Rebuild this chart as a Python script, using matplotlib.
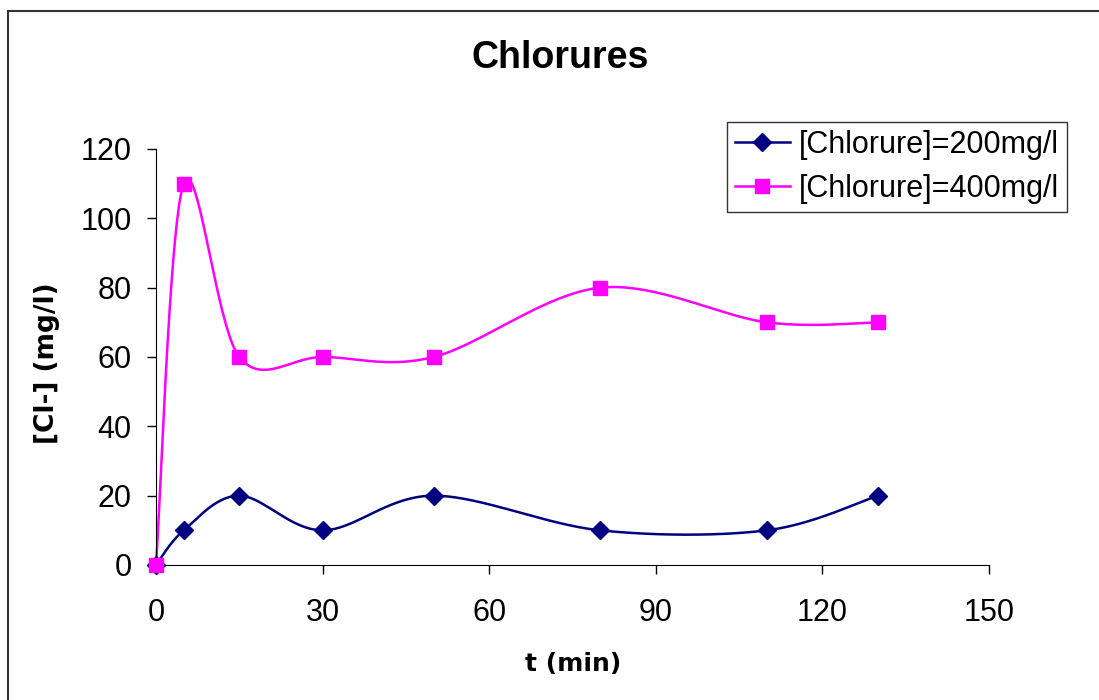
import matplotlib
matplotlib.use("Agg")
import matplotlib.pyplot as plt
import numpy as np
from matplotlib.patches import Rectangle

plt.rcParams['font.family'] = ['Liberation Sans', 'DejaVu Sans']

t = [0, 5, 15, 30, 50, 80, 110, 130]
cl_200 = [0, 10, 20, 10, 20, 10, 10, 20]
cl_400 = [0, 110, 60, 60, 60, 80, 70, 70]
labels = ['[Chlorure]=200mg/l', '[Chlorure]=400mg/l']


def smooth(ax, x, y, n=40):
    # bezier smoothing done in screen space, like a spreadsheet "smoothed line"
    pts = ax.transData.transform(np.column_stack([x, y]))
    out = [pts[0]]
    for i in range(len(pts) - 1):
        p0 = pts[i - 1] if i > 0 else pts[i]
        p1 = pts[i]
        p2 = pts[i + 1]
        p3 = pts[i + 2] if i + 2 < len(pts) else pts[i + 1]
        c1 = p1 + (p2 - p0) / 6
        c2 = p2 - (p3 - p1) / 6
        s = np.linspace(0, 1, n)[1:, None]
        seg = ((1 - s) ** 3) * p1 + 3 * ((1 - s) ** 2) * s * c1 + 3 * (1 - s) * s ** 2 * c2 + s ** 3 * p2
        out.extend(seg)
    out = np.array(out)
    return ax.transData.inverted().transform(out).T


fig = plt.figure(figsize=(10.99, 7), dpi=100)
ax = fig.add_axes([156 / 1099, 1 - 565 / 700, (989 - 156) / 1099, (565 - 149) / 700])
ax.set_xlim(0, 150)
ax.set_ylim(0, 120)

for yv, col, mk, ms, lab in [(cl_200, '#000080', 'D', 9, labels[0]),
                             (cl_400, '#FF00FF', 's', 10, labels[1])]:
    sx, sy = smooth(ax, t, yv)
    ax.plot(sx, sy, color=col, lw=1.8, clip_on=False)
    ax.plot(t, yv, linestyle='none', marker=mk, ms=ms, color=col, clip_on=False, zorder=3)
    ax.plot([], [], color=col, lw=1.8, marker=mk, ms=ms, label=lab)

ax.set_xticks([0, 30, 60, 90, 120, 150])
ax.set_yticks(range(0, 121, 20))
ax.tick_params(labelsize=22, length=6.5, width=1, direction='out')
ax.tick_params(axis='x', pad=17)
ax.tick_params(axis='y', pad=11)
for s in ['top', 'right']:
    ax.spines[s].set_visible(False)

ax.set_xlabel('t (min)', fontsize=18, fontweight='bold', family='DejaVu Sans')
ax.set_ylabel('[Cl-] (mg/l)', fontsize=19, fontweight='bold', family='DejaVu Sans')
ax.xaxis.set_label_coords((573 - 156) / 833, (565 - 664) / 416)
ax.xaxis.label.set_va('center')
ax.yaxis.set_label_coords((47 - 156) / 833, (565 - 363) / 416)
ax.yaxis.label.set_va('center')
fig.text(560 / 1099, 1 - 58 / 700, 'Chlorures', fontsize=27, fontweight='bold', ha='center', va='center')

leg = ax.legend(loc='upper left', bbox_to_anchor=(727 / 1099, 1 - 122 / 700),
                bbox_transform=fig.transFigure, fontsize=22, frameon=True,
                fancybox=False, edgecolor='black', borderpad=0.25, labelspacing=0.47,
                handlelength=1.8, handletextpad=0.3, borderaxespad=0)
leg.get_frame().set_linewidth(1)

fig.patches.append(Rectangle((8 / 1099, -0.05), 1.2, 1 - 11 / 700 + 0.05,
                             transform=fig.transFigure, fill=False, edgecolor='#333333', lw=1.5))

fig.savefig('out.png', dpi=100)
